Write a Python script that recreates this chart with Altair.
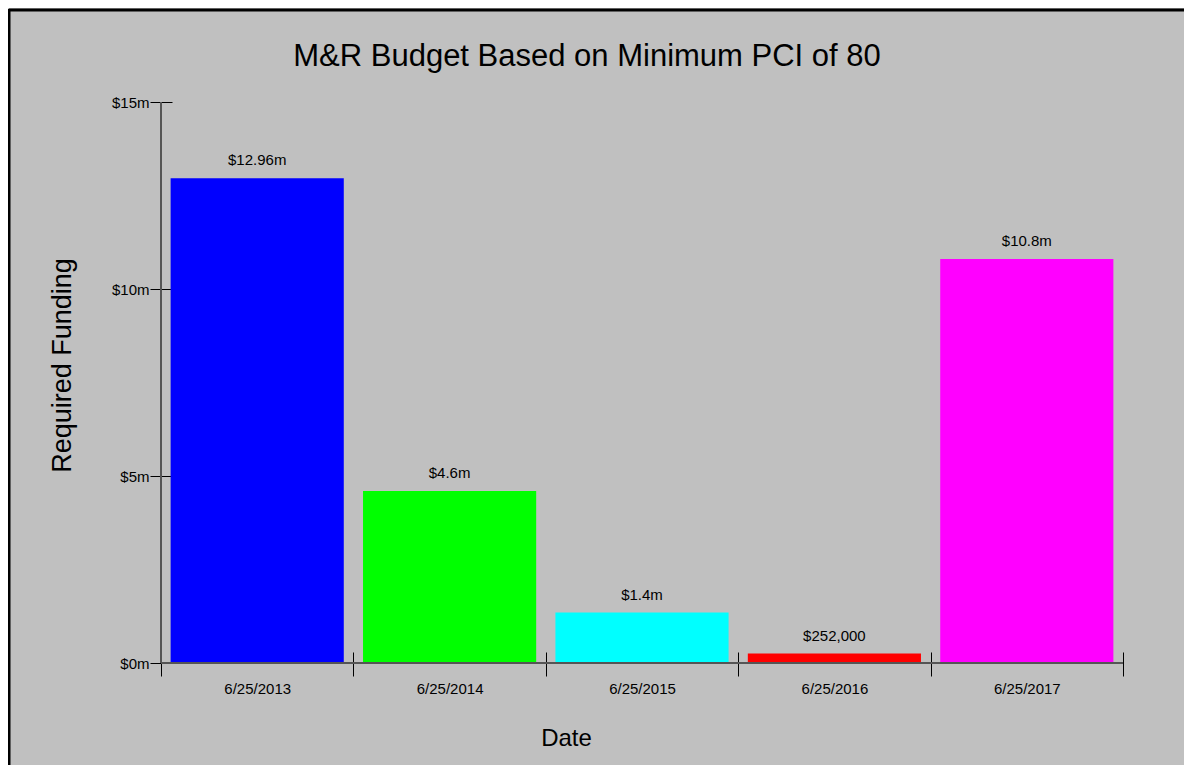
import altair as alt
import pandas as pd

dates = ["6/25/2013", "6/25/2014", "6/25/2015", "6/25/2016", "6/25/2017"]
values = [12960000, 4600000, 1350000, 252000, 10800000]
value_labels = ["$12.96m", "$4.6m", "$1.4m", "$252,000", "$10.8m"]
colors = ["#0000FF", "#00FF00", "#00FFFF", "#FF0000", "#FF00FF"]
y_ticks = [0, 5000000, 10000000, 15000000]

df = pd.DataFrame({"Date": dates, "Funding": values, "Label": value_labels})

FONT = "Liberation Sans, Arial, sans-serif"
W, H = 962, 561

base = alt.Chart(df)

xenc = alt.X(
    "Date:N",
    sort=dates,
    scale=alt.Scale(paddingInner=0, paddingOuter=0),
    axis=alt.Axis(
        title="Date",
        labelAngle=0,
        domain=False,
        offset=-11,
        tickSize=24,
        tickColor="#000000",
        tickWidth=1,
        tickBand="extent",
        labelFont=FONT,
        labelFontSize=15,
        labelColor="#000000",
        labelPadding=5,
        titleFont=FONT,
        titleFontSize=24,
        titleFontWeight="normal",
        titleColor="#000000",
        titleX=405,
        titleY=93,
        titleBaseline="alphabetic",
    ),
)
yenc = alt.Y(
    "Funding:Q",
    scale=alt.Scale(domain=[0, 15000000], nice=False),
    axis=alt.Axis(
        title="Required Funding",
        values=y_ticks,
        labelExpr="'$' + (datum.value / 1000000) + 'm'",
        grid=False,
        domain=False,
        offset=-11,
        tickSize=22,
        tickColor="#000000",
        tickWidth=1,
        labelFont=FONT,
        labelFontSize=15,
        labelColor="#000000",
        labelPadding=1,
        titleFont=FONT,
        titleFontSize=27,
        titleFontWeight="normal",
        titleColor="#000000",
        titleAngle=-90,
        titleX=-102,
        titleY=263,
        titleAlign="center",
        titleBaseline="alphabetic",
    ),
)

bars = base.mark_bar(width=alt.RelativeBandSize(0.9)).encode(
    x=xenc,
    y=yenc,
    color=alt.Color("Date:N", scale=alt.Scale(domain=dates, range=colors), legend=None),
)

texts = base.mark_text(
    dy=-13, baseline="alphabetic", font=FONT, fontSize=15, color="#000000"
).encode(
    x=alt.X("Date:N", sort=dates),
    y=alt.Y("Funding:Q"),
    text="Label:N",
)

dummy = alt.Chart(pd.DataFrame({"a": [0]}))
xdomain = dummy.mark_rule(color="#555555", strokeWidth=2).encode(y=alt.datum(0))
ydomain = dummy.mark_rule(color="#555555", strokeWidth=2).encode(
    x=alt.value(0), y=alt.datum(0), y2=alt.datum(15000000)
)
left_border = dummy.mark_rule(color="#000000", strokeWidth=3, clip=False).encode(
    x=alt.value(-152), y=alt.value(-93), y2=alt.value(H + 102)
)
top_border = dummy.mark_rule(color="#000000", strokeWidth=3, clip=False).encode(
    x=alt.value(-152), x2=alt.value(W + 61), y=alt.value(-92)
)

chart = (
    alt.layer(bars, texts, xdomain, ydomain, left_border, top_border)
    .properties(
        width=W,
        height=H,
        title=alt.Title(
            "M&R Budget Based on Minimum PCI of 80",
            font=FONT,
            fontSize=31,
            fontWeight="normal",
            color="#000000",
            anchor="middle",
            frame="group",
            dx=-55,
            dy=89,
            offset=0,
            baseline="alphabetic",
        ),
        autosize=alt.AutoSizeParams(type="none"),
        padding={"left": 153, "top": 94, "right": 61, "bottom": 102},
    )
    .configure(background="#C0C0C0")
    .configure_view(stroke=None)
)

chart.save("out.html", embed_options={"renderer": "svg", "actions": False})
